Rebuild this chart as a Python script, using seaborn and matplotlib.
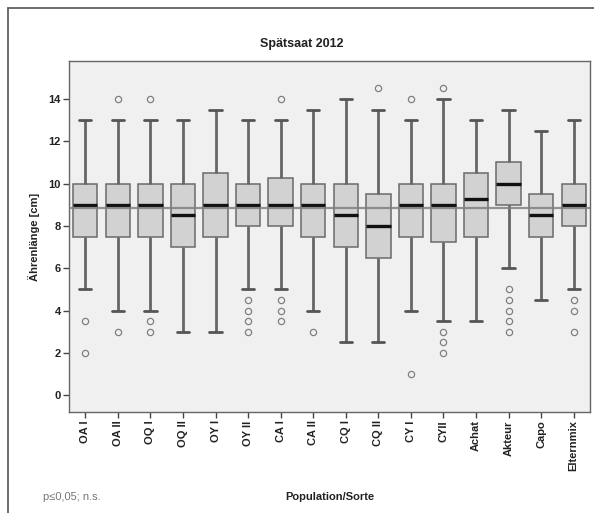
import matplotlib
matplotlib.use("Agg")
import matplotlib.pyplot as plt
from matplotlib.lines import Line2D
import seaborn as sns
import pandas as pd

# Werte (Ährenlänge in cm)
sorten = ["OA I", "OA II", "OQ I", "OQ II", "OY I", "OY II", "CA I", "CA II",
          "CQ I", "CQ II", "CY I", "CYII", "Achat", "Akteur", "Capo", "Elternmix"]
q1 = [7.5, 7.5, 7.5, 7.0, 7.5, 8.0, 8.0, 7.5, 7.0, 6.5, 7.5, 7.25, 7.5, 9.0, 7.5, 8.0]
median = [9.0, 9.0, 9.0, 8.5, 9.0, 9.0, 9.0, 9.0, 8.5, 8.0, 9.0, 9.0, 9.25, 10.0, 8.5, 9.0]
q3 = [10.0, 10.0, 10.0, 10.0, 10.5, 10.0, 10.25, 10.0, 10.0, 9.5, 10.0, 10.0, 10.5, 11.0, 9.5, 10.0]
whisker_unten = [5.0, 4.0, 4.0, 3.0, 3.0, 5.0, 5.0, 4.0, 2.5, 2.5, 4.0, 3.5, 3.5, 6.0, 4.5, 5.0]
whisker_oben = [13.0, 13.0, 13.0, 13.0, 13.5, 13.0, 13.0, 13.5, 14.0, 13.5, 13.0, 14.0, 13.0, 13.5, 12.5, 13.0]
ausreisser_unten = [[3.5, 2.0], [3.0], [3.5, 3.0], [], [], [4.5, 4.0, 3.5, 3.0],
                    [4.5, 4.0, 3.5], [3.0], [], [], [1.0], [3.0, 2.5, 2.0],
                    [], [5.0, 4.5, 4.0, 3.5, 3.0], [], [4.5, 4.0, 3.0]]
ausreisser_oben = [[], [14.0], [14.0], [], [], [], [14.0], [], [], [14.5], [14.0], [14.5],
                   [], [], [], []]
gesamtmittel = 8.85

zeilen = []
for i, s in enumerate(sorten):
    unten = sorted(ausreisser_unten[i]) + [whisker_unten[i]]
    oben = [whisker_oben[i]] + sorted(ausreisser_oben[i])
    k = max(len(unten), len(oben))
    unten = unten + [whisker_unten[i]] * (k - len(unten))
    oben = [whisker_oben[i]] * (k - len(oben)) + oben
    werte = unten + [q1[i]] * k + [median[i]] + [q3[i]] * k + oben
    for w in werte:
        zeilen.append({"sorte": s, "laenge": w})
df = pd.DataFrame(zeilen)

sns.set_theme(style="white")
plt.rcParams["font.family"] = ["Liberation Sans", "DejaVu Sans"]

fig = plt.figure(figsize=(5.94, 5.13), dpi=100)
ax = fig.add_axes([69 / 594, 1 - 412 / 513, (590 - 69) / 594, (412 - 61) / 513])
ax.set_facecolor("#f0f0f0")

sns.boxplot(data=df, x="sorte", y="laenge", order=sorten, ax=ax, width=0.75,
            color="#d2d2d2", saturation=1, linecolor="#6a6a6a", linewidth=1.1,
            whis=1.5,
            flierprops=dict(marker="o", markersize=4.5, markerfacecolor="none",
                            markeredgecolor="#808080", markeredgewidth=0.9),
            medianprops=dict(color="#111111", linewidth=2.4),
            whiskerprops=dict(color="#666666", linewidth=2.0),
            capprops=dict(color="#555555", linewidth=2.0))

ax.axhline(gesamtmittel, color="#808080", linewidth=1.6, alpha=0.85, zorder=5)

ax.set_ylim(-0.8, 15.8)
ax.set_xlim(-0.5, len(sorten) - 0.5)
ax.set_yticks(range(0, 15, 2))
ax.tick_params(axis="both", which="both", direction="out", length=4, width=1,
               color="#444444", labelsize=8, labelcolor="#222222", pad=2,
               left=True, bottom=True)
ax.set_xticklabels(sorten, rotation=90, fontweight="bold")
for lbl in ax.get_yticklabels():
    lbl.set_fontweight("bold")
for sp in ax.spines.values():
    sp.set_color("#666666")
    sp.set_linewidth(1.0)

ax.set_xlabel("")
ax.set_ylabel("Ährenlänge [cm]", fontsize=8, fontweight="bold", color="#222222", labelpad=6)

fig.text(302 / 594, 1 - 44 / 513, "Spätsaat 2012", ha="center", va="center",
         fontsize=9, fontweight="bold", color="#222222")
fig.text(330 / 594, 1 - 497 / 513, "Population/Sorte", ha="center", va="center",
         fontsize=8, fontweight="bold", color="#222222")
fig.text(43 / 594, 1 - 497 / 513, "p≤0,05; n.s.", ha="left", va="center",
         fontsize=8, color="#777777")

# äußerer Rahmen (oben und links)
fig.add_artist(Line2D([8 / 594, 8 / 594], [0, 1 - 8 / 513], color="#555555", linewidth=1.2))
fig.add_artist(Line2D([8 / 594, 1], [1 - 8 / 513, 1 - 8 / 513], color="#555555", linewidth=1.2))

fig.savefig("out.png", dpi=100)
